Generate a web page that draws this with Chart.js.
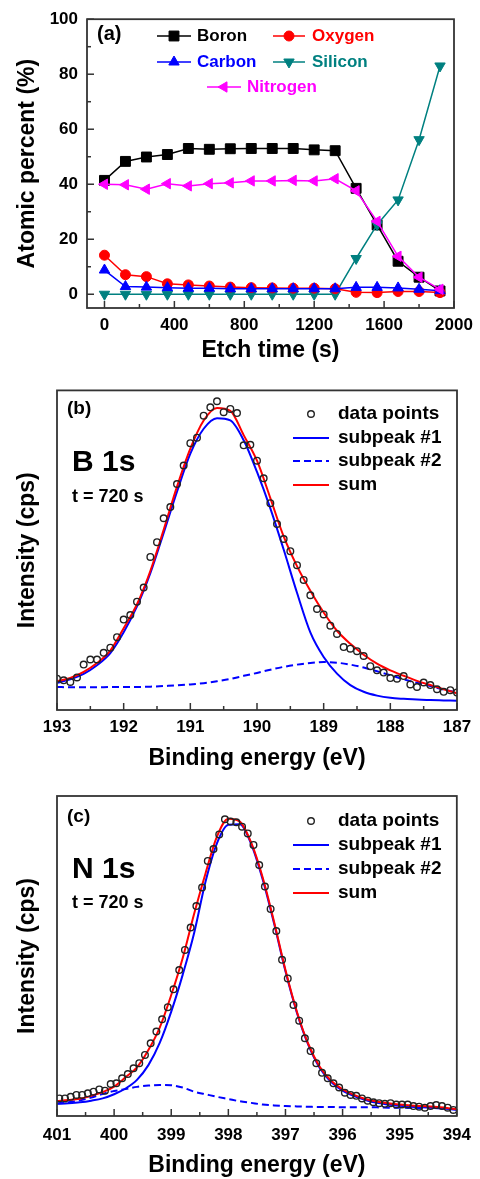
<!DOCTYPE html>
<html>
<head>
<meta charset="utf-8">
<script src="https://cdn.jsdelivr.net/npm/chart.js@4.4.0/dist/chart.umd.min.js"></script>
<style>
  html, body { margin: 0; padding: 0; background: #fff; }
  #wrap { position: relative; width: 480px; height: 1179px; }
  canvas { position: absolute; left: 0; }
</style>
</head>
<body>
<div id="wrap">
  <canvas id="chA" width="480" height="385" style="top:0px"></canvas>
  <canvas id="chB" width="480" height="400" style="top:385px"></canvas>
  <canvas id="chC" width="480" height="394" style="top:785px"></canvas>
</div>
<script>
// (a) depth profile, atomic percent vs etch time
const etchTime = [0, 120, 240, 360, 480, 600, 720, 840, 960, 1080, 1200, 1320, 1440, 1560, 1680, 1800, 1920];
const boron    = [41.4, 48.3, 49.9, 50.8, 53.0, 52.7, 52.9, 53.0, 53.0, 53.0, 52.5, 52.2, 38.5, 25.2, 12.0, 6.2, 1.2];
const oxygen   = [14.2, 7.1, 6.4, 3.8, 3.4, 3.0, 2.6, 2.4, 2.3, 2.2, 2.2, 2.0, 0.7, 0.6, 1.0, 1.0, 0.6];
const carbon   = [8.8, 2.8, 2.6, 2.4, 2.2, 2.2, 2.0, 2.0, 2.0, 2.0, 2.0, 2.0, 2.5, 2.5, 2.3, 1.8, 1.3];
const silicon  = [0, 0, 0, 0, 0, 0, 0, 0, 0, 0, 0, 0, 13.0, 25.3, 34.3, 56.2, 83.0];
const nitrogen = [40.0, 39.8, 38.2, 40.2, 39.4, 40.2, 40.5, 41.2, 41.2, 41.4, 41.2, 42.0, 37.6, 26.5, 13.8, 6.2, 1.8];
const xTicksA = [0, 400, 800, 1200, 1600, 2000];
const yTicksA = [0, 20, 40, 60, 80, 100];

// (b) B 1s spectrum (intensity in arbitrary units, 0-100 of the frame)
const bEnergy = [193.0, 192.9, 192.8, 192.7, 192.6, 192.5, 192.4, 192.3, 192.2, 192.1,
  192.0, 191.9, 191.8, 191.7, 191.6, 191.5, 191.4, 191.3, 191.2, 191.1,
  191.0, 190.9, 190.8, 190.7, 190.6, 190.5, 190.4, 190.3, 190.2, 190.1,
  190.0, 189.9, 189.8, 189.7, 189.6, 189.5, 189.4, 189.3, 189.2, 189.1,
  189.0, 188.9, 188.8, 188.7, 188.6, 188.5, 188.4, 188.3, 188.2, 188.1,
  188.0, 187.9, 187.8, 187.7, 187.6, 187.5, 187.4, 187.3, 187.2, 187.1, 187.0];
const bCounts = [9.8, 9.3, 8.8, 10.2, 14.2, 15.8, 15.8, 17.9, 19.5, 22.8,
  28.3, 29.7, 33.9, 38.3, 47.9, 52.5, 60.0, 63.5, 70.7, 76.5,
  83.5, 85.2, 92.1, 94.7, 96.6, 93.2, 94.2, 92.9, 82.8, 83.0,
  78.0, 72.5, 64.7, 58.2, 53.5, 49.7, 45.3, 40.7, 35.9, 31.6,
  29.9, 26.4, 23.8, 19.7, 19.2, 18.4, 16.9, 13.7, 12.4, 11.7,
  10.0, 9.8, 10.6, 8.0, 7.2, 8.6, 7.8, 6.5, 5.7, 6.2, 5.5];
const bCurveE = [193.0, 192.8, 192.6, 192.4, 192.2, 192.0, 191.8, 191.6, 191.4, 191.2, 191.0,
  190.8, 190.6, 190.4, 190.2, 190.0, 189.8, 189.6, 189.4, 189.2, 189.0,
  188.8, 188.6, 188.4, 188.2, 188.0, 187.8, 187.6, 187.4, 187.2, 187.0];
const bSum  = [9.0, 10.0, 11.9, 14.7, 18.6, 25.6, 33.1, 43.5, 56.4, 69.9, 81.8,
  90.6, 94.5, 93.6, 86.0, 78.0, 66.3, 54.3, 45.0, 37.3, 30.5,
  24.8, 20.7, 17.3, 14.5, 12.4, 10.7, 9.1, 7.8, 6.5, 5.2];
const bSub1 = [8.5, 9.6, 11.3, 14.0, 17.8, 24.3, 32.4, 42.8, 55.4, 68.3, 80.2,
  88.0, 91.3, 90.6, 84.4, 74.5, 63.1, 50.2, 36.7, 24.3, 16.6,
  11.4, 7.8, 5.7, 4.5, 3.8, 3.5, 3.3, 3.1, 3.0, 2.9];
const bSub2 = [7.2, 7.1, 7.1, 7.1, 7.2, 7.2, 7.2, 7.3, 7.5, 7.7, 8.0,
  8.4, 9.0, 9.7, 10.7, 11.6, 12.6, 13.5, 14.2, 14.7, 15.0,
  14.8, 14.2, 13.3, 12.1, 10.9, 9.6, 8.5, 7.5, 6.4, 5.5];
const bTicks = [193, 192, 191, 190, 189, 188, 187];

// (c) N 1s spectrum
const nEnergy = [400.96, 400.86, 400.76, 400.66, 400.56, 400.46, 400.36, 400.26, 400.16, 400.06,
  399.96, 399.86, 399.76, 399.66, 399.56, 399.46, 399.36, 399.26, 399.16, 399.06,
  398.96, 398.86, 398.76, 398.66, 398.56, 398.46, 398.36, 398.26, 398.16, 398.06,
  397.96, 397.86, 397.76, 397.66, 397.56, 397.46, 397.36, 397.26, 397.16, 397.06,
  396.96, 396.86, 396.76, 396.66, 396.56, 396.46, 396.36, 396.26, 396.16, 396.06,
  395.96, 395.86, 395.76, 395.66, 395.56, 395.46, 395.36, 395.26, 395.16, 395.06,
  394.96, 394.86, 394.76, 394.66, 394.56, 394.46, 394.36, 394.26, 394.16, 394.06];
const nCounts = [5.5, 5.5, 6.0, 6.6, 6.6, 7.1, 7.6, 8.3, 7.9, 10.0,
  10.2, 11.8, 13.1, 14.9, 16.5, 19.1, 22.7, 26.4, 30.2, 34.0,
  39.6, 45.6, 51.9, 58.9, 65.6, 71.4, 79.7, 83.4, 88.0, 92.7,
  92.0, 91.8, 90.4, 88.3, 84.7, 78.4, 71.7, 64.7, 57.8, 48.8,
  43.0, 34.7, 29.8, 24.3, 20.3, 16.5, 13.5, 11.8, 10.2, 8.9,
  7.3, 6.6, 6.3, 5.5, 4.8, 4.3, 4.0, 3.8, 4.0, 3.6,
  3.6, 3.6, 3.1, 2.9, 2.6, 3.1, 3.4, 3.1, 2.6, 1.9];
const nCurveE = [401.0, 400.8, 400.6, 400.4, 400.2, 400.0, 399.8, 399.6, 399.4, 399.2, 399.0, 398.8,
  398.6, 398.4, 398.2, 398.0, 397.8, 397.6, 397.4, 397.2, 397.0, 396.8, 396.6, 396.4,
  396.2, 396.0, 395.8, 395.6, 395.4, 395.2, 395.0, 394.8, 394.6, 394.4, 394.2, 394.0];
const nSum  = [4.7, 5.0, 5.4, 6.3, 7.5, 9.2, 12.1, 15.2, 20.6, 27.7, 37.8, 49.3,
  63.1, 75.8, 87.3, 92.9, 92.0, 85.4, 74.6, 60.7, 45.6, 32.6, 22.5, 15.4,
  11.0, 8.3, 6.6, 5.3, 4.5, 4.0, 3.6, 3.3, 3.1, 2.9, 2.6, 2.1];
const nSub1 = [3.8, 4.0, 4.3, 4.8, 5.5, 6.8, 8.6, 11.3, 15.9, 22.9, 32.6, 44.1,
  57.1, 73.2, 85.2, 91.0, 91.2, 85.0, 74.0, 60.2, 45.2, 32.3, 22.2, 15.0,
  10.6, 7.9, 6.2, 5.0, 4.1, 3.6, 3.2, 2.9, 2.7, 2.5, 2.3, 1.9];
const nSub2 = [3.9, 4.3, 4.9, 5.8, 6.9, 7.8, 8.4, 9.1, 9.5, 9.7, 9.6, 8.9,
  7.6, 6.8, 6.0, 5.3, 4.6, 4.1, 3.6, 3.3, 3.1, 3.0, 2.9, 2.8,
  2.8, 2.7, 2.7, 2.7, 2.7, 2.6, 2.6, 2.5, 2.5];
const nTicks = [401, 400, 399, 398, 397, 396, 395, 394];

const FONT = '"Liberation Sans", Arial, Helvetica, sans-serif';
Chart.defaults.font.family = FONT;
Chart.defaults.font.weight = 'bold';
Chart.defaults.color = '#000';

const RED = '#ff0000', BLUE = '#0000ff', TEAL = '#008080', MAGENTA = '#ff00ff';

function xy(xs, ys) {
  return ys.map((v, i) => ({ x: xs[i], y: v }));
}

// marker shapes like Chart.js point styles
function marker(ctx, shape, x, y, r, color, rot) {
  ctx.save();
  ctx.fillStyle = color;
  ctx.strokeStyle = color;
  ctx.lineWidth = 1;
  ctx.beginPath();
  if (shape === 'rect') {
    const s = r * Math.SQRT1_2;
    ctx.rect(x - s, y - s, 2 * s, 2 * s);
  } else if (shape === 'circle') {
    ctx.arc(x, y, r, 0, Math.PI * 2);
  } else {
    let a = (rot || 0) * Math.PI / 180;
    for (let i = 0; i < 3; i++) {
      const px = x + Math.sin(a) * r, py = y - Math.cos(a) * r;
      if (i) ctx.lineTo(px, py); else ctx.moveTo(px, py);
      a += 2 * Math.PI / 3;
    }
    ctx.closePath();
  }
  ctx.fill();
  ctx.stroke();
  ctx.restore();
}

// frame, inward ticks, panel texts and legend
function decor(cfg) {
  return {
    id: 'decor',
    afterDraw(chart) {
      const ctx = chart.ctx, a = chart.chartArea;
      ctx.save();
      ctx.strokeStyle = '#333';
      ctx.lineWidth = 1.5;
      const seg = (x1, y1, x2, y2) => { ctx.beginPath(); ctx.moveTo(x1, y1); ctx.lineTo(x2, y2); ctx.stroke(); };

      const xs = chart.scales.x;
      const xv = xs.ticks.map(t => t.value).sort((p, q) => p - q);
      xv.forEach((v, i) => {
        const p = xs.getPixelForValue(v);
        seg(p, a.bottom, p, a.bottom - 7);
        if (i) {
          const m = xs.getPixelForValue((v + xv[i - 1]) / 2);
          seg(m, a.bottom, m, a.bottom - 4);
        }
      });
      if (cfg.yTicks) {
        const ys = chart.scales.y;
        const yv = ys.ticks.map(t => t.value).sort((p, q) => p - q);
        yv.forEach((v, i) => {
          const p = ys.getPixelForValue(v);
          seg(a.left, p, a.left + 7, p);
          if (i) {
            const m = ys.getPixelForValue((v + yv[i - 1]) / 2);
            seg(a.left, m, a.left + 4, m);
          }
        });
      }
      ctx.lineWidth = 1.8;
      ctx.strokeRect(a.left, a.top, a.right - a.left, a.bottom - a.top);

      ctx.textBaseline = 'middle';
      ctx.textAlign = 'left';
      (cfg.texts || []).forEach(t => {
        ctx.font = 'bold ' + t.size + 'px ' + FONT;
        ctx.fillStyle = t.color || '#000';
        ctx.fillText(t.text, t.x, t.y);
      });

      (cfg.legend || []).forEach(it => {
        if (it.kind === 'circle') {
          ctx.beginPath();
          ctx.lineWidth = 1.4;
          ctx.strokeStyle = '#222';
          ctx.arc(it.x, it.y, 3.3, 0, Math.PI * 2);
          ctx.stroke();
        } else {
          ctx.lineWidth = it.width || 2;
          ctx.strokeStyle = it.color;
          ctx.setLineDash(it.kind === 'dash' ? [7, 4] : []);
          seg(it.x1, it.y, it.x2, it.y);
          ctx.setLineDash([]);
          if (it.shape) marker(ctx, it.shape, (it.x1 + it.x2) / 2, it.y, it.r, it.color, it.rot);
        }
        ctx.font = 'bold ' + cfg.legendSize + 'px ' + FONT;
        ctx.fillStyle = it.textColor || '#000';
        ctx.fillText(it.text, it.tx, it.y);
      });
      ctx.restore();
    }
  };
}

function xAxis(min, max, ticks, reverse, height, tickPad, title, titlePad) {
  return {
    type: 'linear', min: min, max: max, reverse: reverse,
    grid: { display: false, drawTicks: false }, border: { display: false },
    afterBuildTicks: s => { s.ticks = ticks.map(v => ({ value: v })); },
    afterFit: s => { s.height = height; },
    ticks: { padding: tickPad, color: '#000', font: { size: 17, weight: 'bold' }, maxRotation: 0, autoSkip: false,
      callback: v => String(v) },
    title: { display: true, text: title, color: '#000', font: { size: 23, weight: 'bold' }, padding: { top: 0, bottom: titlePad } }
  };
}

const baseOpts = {
  responsive: false,
  animation: false,
  events: [],
  plugins: { legend: { display: false }, tooltip: { enabled: false } }
};

// panel (a)
function seriesA(label, vals, color, shape, r, rot, order) {
  return {
    label: label, data: xy(etchTime, vals), borderColor: color, backgroundColor: color,
    borderWidth: 1.5, tension: 0, pointStyle: shape, pointRadius: r, pointRotation: rot,
    pointBackgroundColor: color, pointBorderColor: color, pointBorderWidth: 1, order: order
  };
}

new Chart(document.getElementById('chA'), {
  type: 'line',
  data: {
    datasets: [
      seriesA('Boron', boron, '#000', 'rect', 7, 0, 4),
      seriesA('Oxygen', oxygen, RED, 'circle', 5, 0, 2),
      seriesA('Carbon', carbon, BLUE, 'triangle', 6, 0, 1),
      seriesA('Silicon', silicon, TEAL, 'triangle', 6, 180, 3),
      seriesA('Nitrogen', nitrogen, MAGENTA, 'triangle', 6, -90, 0)
    ]
  },
  options: Object.assign({}, baseOpts, {
    layout: { padding: { left: 0, right: 26, top: 13, bottom: 0 } },
    scales: {
      x: xAxis(-100, 2000, xTicksA, false, 77, 7, 'Etch time (s)', 21),
      y: {
        type: 'linear', min: -5, max: 100,
        grid: { display: false, drawTicks: false }, border: { display: false },
        afterBuildTicks: s => { s.ticks = yTicksA.map(v => ({ value: v })); },
        afterFit: s => { s.width = 87; },
        ticks: { padding: 9, color: '#000', font: { size: 17, weight: 'bold' }, callback: v => String(v) },
        title: { display: true, text: 'Atomic percent (%)', color: '#000', font: { size: 23, weight: 'bold' }, padding: { top: 14, bottom: 0 } }
      }
    }
  }),
  plugins: [decor({
    yTicks: true,
    legendSize: 17,
    texts: [{ text: '(a)', x: 97, y: 34, size: 20 }],
    legend: [
      { x1: 157, x2: 191, y: 36, color: '#000', width: 1.5, shape: 'rect', r: 7, rot: 0, text: 'Boron', tx: 197, textColor: '#000' },
      { x1: 273, x2: 305, y: 36, color: RED, width: 1.5, shape: 'circle', r: 5, rot: 0, text: 'Oxygen', tx: 312, textColor: RED },
      { x1: 157, x2: 191, y: 62, color: BLUE, width: 1.5, shape: 'triangle', r: 6, rot: 0, text: 'Carbon', tx: 197, textColor: BLUE },
      { x1: 273, x2: 305, y: 62, color: TEAL, width: 1.5, shape: 'triangle', r: 6, rot: 180, text: 'Silicon', tx: 312, textColor: TEAL },
      { x1: 207, x2: 241, y: 87, color: MAGENTA, width: 1.5, shape: 'triangle', r: 6, rot: -90, text: 'Nitrogen', tx: 247, textColor: MAGENTA }
    ]
  })]
});

// panels (b) and (c)
function spectrum(id, energy, counts, curveE, sum, sub1, sub2, xmin, xmax, ticks, padTop, xHeight, tickPad, titlePad, texts, legendY) {
  new Chart(document.getElementById(id), {
    type: 'line',
    data: {
      datasets: [
        { label: 'data points', data: xy(energy, counts), showLine: false, pointStyle: 'circle', pointRadius: 3.3,
          pointBorderColor: '#222', pointBackgroundColor: 'rgba(255,255,255,0)', pointBorderWidth: 1.4, order: 0 },
        { label: 'sum', data: xy(curveE, sum), borderColor: RED, borderWidth: 2, pointRadius: 0,
          cubicInterpolationMode: 'monotone', order: 1 },
        { label: 'subpeak #1', data: xy(curveE, sub1), borderColor: BLUE, borderWidth: 2, pointRadius: 0,
          cubicInterpolationMode: 'monotone', order: 2 },
        { label: 'subpeak #2', data: xy(curveE, sub2), borderColor: BLUE, borderWidth: 2, borderDash: [7, 4], pointRadius: 0,
          cubicInterpolationMode: 'monotone', order: 3 }
      ]
    },
    options: Object.assign({}, baseOpts, {
      layout: { padding: { left: 0, right: 23, top: padTop, bottom: 0 } },
      scales: {
        x: xAxis(xmin, xmax, ticks, true, xHeight, tickPad, 'Binding energy (eV)', titlePad),
        y: {
          type: 'linear', min: 0, max: 100,
          grid: { display: false, drawTicks: false }, border: { display: false },
          ticks: { display: false },
          afterFit: s => { s.width = 57; },
          title: { display: true, text: 'Intensity (cps)', color: '#000', font: { size: 23, weight: 'bold' }, padding: { top: 14, bottom: 0 } }
        }
      }
    }),
    plugins: [decor({
      yTicks: false,
      legendSize: 19,
      texts: texts,
      legend: [
        { kind: 'circle', x: 311, y: legendY[0], text: 'data points', tx: 338 },
        { kind: 'line', x1: 293, x2: 329, y: legendY[1], color: BLUE, text: 'subpeak #1', tx: 338 },
        { kind: 'dash', x1: 293, x2: 329, y: legendY[2], color: BLUE, text: 'subpeak #2', tx: 338 },
        { kind: 'line', x1: 293, x2: 329, y: legendY[3], color: RED, text: 'sum', tx: 338 }
      ]
    })]
  });
}

spectrum('chB', bEnergy, bCounts, bCurveE, bSum, bSub1, bSub2, 187, 193, bTicks, 3, 75, 7, 13,
  [{ text: '(b)', x: 67, y: 24, size: 19 }, { text: 'B 1s', x: 72, y: 78, size: 30 }, { text: 't = 720 s', x: 72, y: 112, size: 18 }],
  [29, 53, 76, 100]);

spectrum('chC', nEnergy, nCounts, nCurveE, nSum, nSub1, nSub2, 394, 401, nTicks, 11, 63, 9, 0,
  [{ text: '(c)', x: 67, y: 32, size: 19 }, { text: 'N 1s', x: 72, y: 85, size: 30 }, { text: 't = 720 s', x: 72, y: 118, size: 18 }],
  [36, 60, 84, 108]);
</script>
</body>
</html>
